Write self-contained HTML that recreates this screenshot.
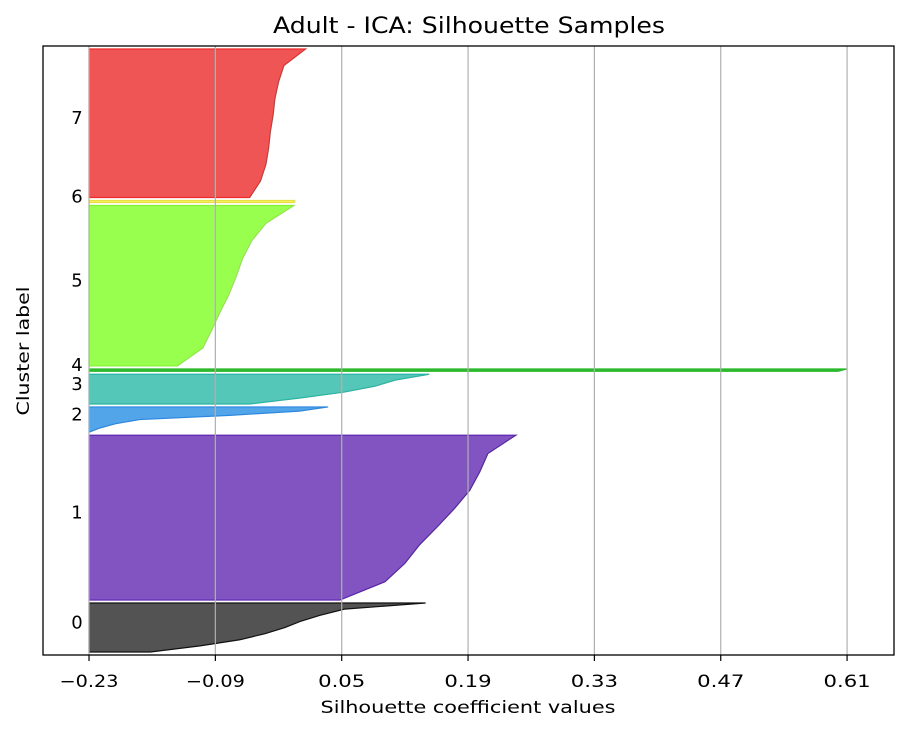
<!DOCTYPE html>
<html><head><meta charset="utf-8"><style>
body{margin:0;background:#fff}
svg{display:block;font-family:"DejaVu Sans","Liberation Sans",sans-serif}
</style></head><body>
<svg id="chart" width="912" height="733" viewBox="0 0 912 733" xmlns="http://www.w3.org/2000/svg">
<rect width="912" height="733" fill="#fff"/>
<text x="469" y="33" font-size="22" text-anchor="middle" textLength="392" lengthAdjust="spacingAndGlyphs">Adult - ICA: Silhouette Samples</text>
<g id="fills"></g>
<g id="grid"></g>
<g id="labels"></g>
<rect x="43" y="46" width="851" height="609" fill="none" stroke="#000" stroke-width="1.3"/>
<g id="xticks"></g>
<text x="468" y="713" font-size="17" text-anchor="middle" textLength="295" lengthAdjust="spacingAndGlyphs">Silhouette coefficient values</text>
<text x="0" y="0" font-size="17" text-anchor="middle" textLength="129" lengthAdjust="spacingAndGlyphs" transform="translate(29,351) rotate(-90)">Cluster label</text>
</svg>
<script>
const tickValues=[-0.23,-0.09,0.05,0.19,0.33,0.47,0.61];
const tickLabels=["\u22120.23","\u22120.09","0.05","0.19","0.33","0.47","0.61"];
const clusterNames=["0","1","2","3","4","5","6","7"];
const clusterSizes=[165,555,85,100,8,540,7,500];
const clusterColors=["#4a4a4a","#7a4bbf","#4aa0e8","#4cc4b4","#2ab02a","#94ff44","#f4ef5a","#ef4c4c"];
const clusterEdges=["#111111","#5a22b0","#2a88e0","#2ab4a2","#22bb22","#88f030","#e8e040","#ee2a2a"];
// silhouette profiles, top -> bottom of each cluster band
const profile0=[0.143,0.053,0.026,0.004,-0.013,-0.035,-0.063,-0.107,-0.162];
const profile1=[0.243,0.212,0.203,0.192,0.175,0.156,0.136,0.120,0.098,0.048];
const profile2=[0.035,0.003,-0.074,-0.174,-0.201,-0.218,-0.23];
const profile3=[0.147,0.109,0.087,0.053,0.004,-0.052];
const profile4=[0.61,0.60];
const profile5=[-0.003,-0.034,-0.050,-0.060,-0.067,-0.075,-0.085,-0.094,-0.104,-0.132];
const profile6=[-0.002,-0.002];
const profile7=[0.010,-0.014,-0.020,-0.024,-0.026,-0.029,-0.031,-0.034,-0.040,-0.052];
const profiles=[profile0,profile1,profile2,profile3,profile4,profile5,profile6,profile7];
const gap=10, yMax=2050, xMin=-0.281, xMax=0.662;
const L=43,R=894,T=46,B=655;
const xs=v=>L+(v-xMin)/(xMax-xMin)*(R-L);
const ys=v=>B-v/yMax*(B-T);
const NS="http://www.w3.org/2000/svg";
const mk=(t,a,p)=>{const e=document.createElementNS(NS,t);for(const k in a)e.setAttribute(k,a[k]);p.appendChild(e);return e;};
const grid=document.getElementById('grid'),xt=document.getElementById('xticks');
tickValues.forEach((v,i)=>{
  const x=xs(v);
  const g=mk('line',{x1:x,x2:x,y1:T,y2:B,stroke:'#b0b0b0','stroke-width':1.2},grid);
  
  
  const t=mk('line',{x1:x,x2:x,y1:B,y2:B+6,stroke:'#000','stroke-width':1.2},xt);
  
  
  const w=tickLabels[i].length*11.8;
  const tx=mk('text',{x:x,y:687,'font-size':17,'text-anchor':'middle',textLength:w,lengthAdjust:'spacingAndGlyphs'},xt);
  tx.textContent=tickLabels[i];
  
  
});
const fills=document.getElementById('fills'),labels=document.getElementById('labels');
let yl=gap;
clusterSizes.forEach((n,c)=>{
  const p=profiles[c],yu=yl+n;
  const base=xs(-0.23);
  let d=`M${base},${ys(yu)}`;
  p.forEach((v,i)=>{const yy=yu-(n*i/(p.length-1));d+=` L${xs(v)},${ys(yy)}`;});
  d+=` L${base},${ys(yl)} Z`;
  const path=mk('path',{d:d,fill:clusterColors[c],'fill-opacity':0.95,stroke:clusterEdges[c],'stroke-width':1.2},fills);
  
  
  const lb=mk('text',{x:77,y:ys(yl+n/2)+1,'font-size':18,'text-anchor':'middle'},labels);
  lb.textContent=clusterNames[c];
  
  
  yl=yu+gap;
});
</script>
</body></html>
